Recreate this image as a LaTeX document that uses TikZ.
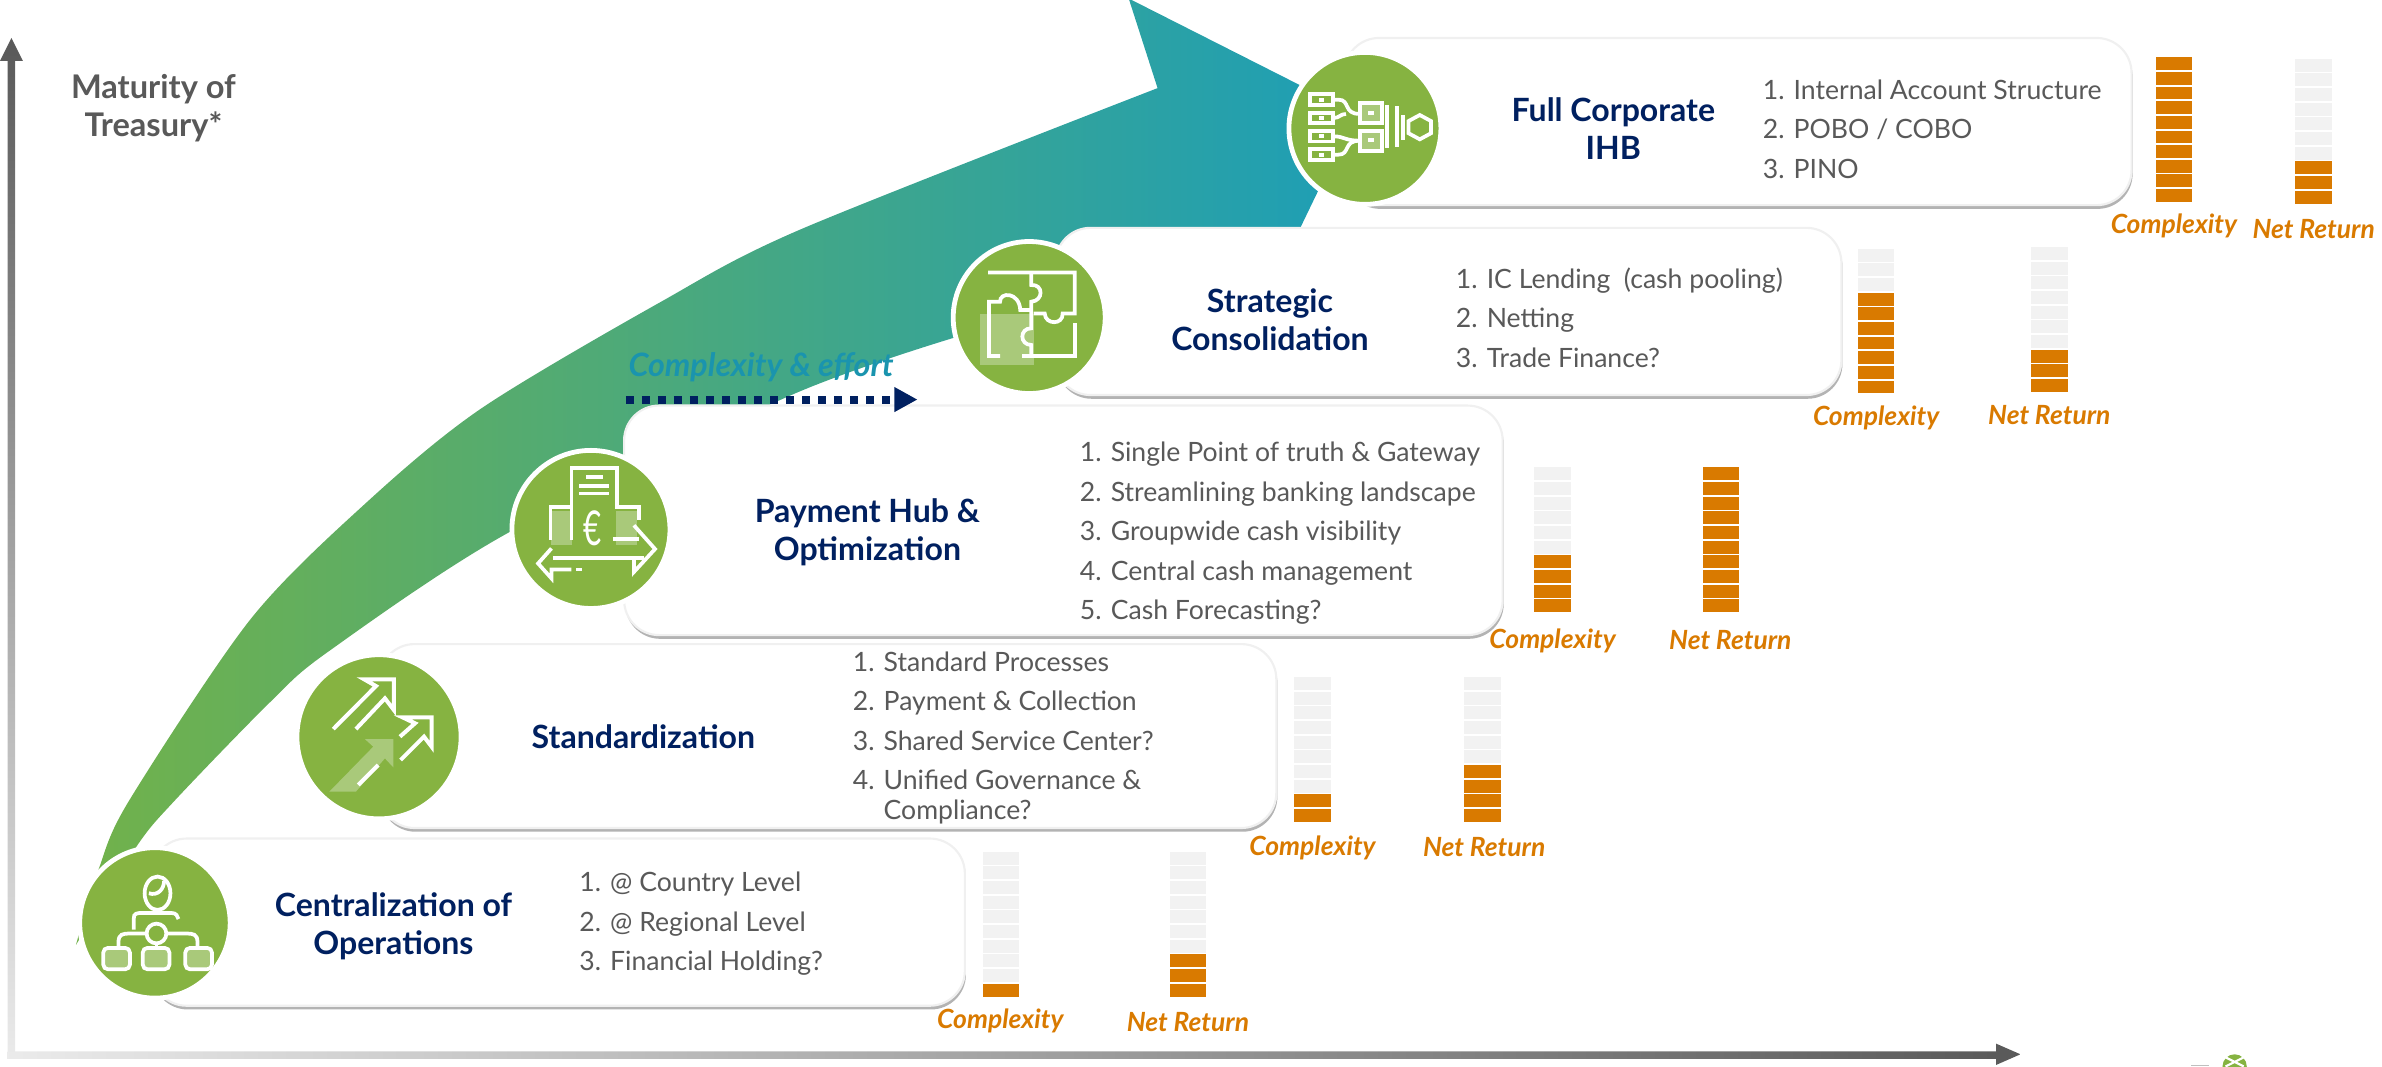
\documentclass[tikz,border=0pt]{standalone}
\usepackage{fontspec}
\setmainfont{Lato}
\usetikzlibrary{positioning, arrows.meta, shadows}

\definecolor{navytext}{HTML}{002060}
\definecolor{graytext}{HTML}{595959}
\definecolor{iconGreen}{HTML}{86B341}
\definecolor{iconLight}{HTML}{A9C97A}
\definecolor{barOrange}{HTML}{D97A00}
\definecolor{barGray}{HTML}{F2F2F2}
\definecolor{arrowGreen}{HTML}{72B24A}
\definecolor{arrowMid}{HTML}{3BA690}
\definecolor{arrowTeal}{HTML}{1C9EB8}
\definecolor{effortTeal}{HTML}{1A94AE}

\tikzset{
  card/.style={draw=black!6, line width=0.4pt, fill=white, rectangle, rounded corners=0.23cm,
    drop shadow={shadow xshift=0.2pt, shadow yshift=-0.7pt, fill=black!50, opacity=0.6}},
  iconcircle/.style={circle, fill=iconGreen, draw=white, line width=0.9pt, inner sep=0pt},
  cardtitle/.style={font=\fontsize{6}{7.1}\selectfont\bfseries, text=navytext, align=center},
  cardlist/.style={font=\fontsize{4.98}{7.4}\selectfont, text=graytext, align=left, anchor=west},
  barlabel/.style={font=\fontsize{4.95}{6}\selectfont\bfseries\itshape, text=barOrange},
  iconline/.style={draw=white, line width=0.7pt},
  iconfill/.style={fill=iconLight}
}

\newcommand{\barcol}[3]{
  \foreach \i in {0,...,9} {
    \ifnum\i<#3 \def\barfill{barOrange}\else\def\barfill{barGray}\fi
    \fill[\barfill] (#1,{#2-\i*9.65}) rectangle ++(24,-8.5);
  }
}

\begin{document}
\begin{tikzpicture}[x=0.01cm,y=-0.01cm]
\useasboundingbox (0,0) rectangle (1568,702);

\shade[left color=arrowGreen, middle color=arrowMid, right color=arrowTeal]
  plot[smooth] coordinates {(50,622) (65,572) (85,527) (165,407.5) (241,331) (316.6,269) (434.5,199) (527,151) (762,58)}
  -- (743,-1) -- (905,81) -- (868,125) -- (840,183) -- (720,190)
  -- plot[smooth] coordinates {(629,222) (521,260) (334,351) (216,429) (178,462) (115,527) (90,557) (50,622)}
  -- cycle;

\shade[top color=graytext, bottom color=black!8]
  (5,697) -- (5,40) -- (0,40) -- (7.5,25) -- (15,40) -- (10,40) -- (10,697) -- cycle;
\shade[left color=black!8, right color=graytext]
  (5,692) -- (1314,692) -- (1314,687) -- (1330,694) -- (1314,701) -- (1314,697) -- (5,697) -- cycle;

\node (maturity) at (101,71) [font=\fontsize{6.1}{7.1}\selectfont\bfseries, text=graytext, align=center]
  {Maturity of\\Treasury*};

\node (cardFull) at (1144,80) [card, minimum width=5.18cm, minimum height=1.10cm] {};
\node (cardStrategic) at (953.5,205) [card, minimum width=5.17cm, minimum height=1.10cm] {};
\node (cardPayment) at (700,342.5) [card, minimum width=5.78cm, minimum height=1.51cm] {};
\node (cardStandard) at (545,484.5) [card, minimum width=5.90cm, minimum height=1.21cm] {};
\node (cardOps) at (367.5,607) [card, minimum width=5.35cm, minimum height=1.10cm] {};

\node (iconOps) at (102,607.5) [iconcircle, minimum size=0.99cm] {};
\node (iconStandard) at (249.5,485) [iconcircle, minimum size=1.08cm] {};
\node (iconPayment) at (389,348.5) [iconcircle, minimum size=1.04cm] {};
\node (iconStrategic) at (677.5,209) [iconcircle, minimum size=1.0cm] {};
\node (iconFull) at (898.5,84.5) [iconcircle, minimum size=1.0cm] {};

\draw[iconline] (103.7,588) ellipse [x radius=8.5, y radius=11];
\draw[iconline] (98,588) .. controls (104,590) and (108,585) .. (108,580);
\draw[iconline] (88,612) -- (88,605) .. controls (88,601) and (90,601) .. (94,601) -- (113,601) .. controls (116,601) and (117,603) .. (117.5,605);
\draw[iconline] (103,614.5) circle [radius=6.5];
\draw[iconline] (103,621) -- (103,624);
\draw[iconline] (78,624) -- (78,620) .. controls (78,615) and (81,614.5) .. (85,614.5) -- (96.5,614.5);
\draw[iconline] (130,624) -- (130,620) .. controls (130,615) and (127,614.5) .. (123,614.5) -- (109.5,614.5);
\foreach \bx in {68,94,122} {
  \draw[iconline, iconfill, rounded corners=0.03cm] (\bx,624) rectangle ++(17.5,14);
}

\fill[iconLight] (216.8,521.1) -- (234.3,521.1) -- (253.4,499.2) -- (258.9,505.1) -- (258.9,486.5) -- (240.2,486.5) -- (245.7,491.5) -- cycle;
\draw[iconline, line width=0.75pt] (219.4,479.9) -- (247.5,451.6) -- (239.8,447.2) -- (259.3,447.2) -- (259.3,467.4) -- (253.4,459.7) -- (234.3,479.9);
\draw[iconline, line width=0.75pt] (263.3,484.9) -- (273.2,476.1) -- (265,472.2) -- (284.1,472.2) -- (284.1,491.5) -- (279.1,484.9) -- (263.7,500.3);
\draw[iconline, line width=0.75pt] (235.9,516.7) -- (249,503.6);

\fill[iconLight] (362.7,336.2) rectangle (376.5,359);
\fill[iconLight] (405.6,336.2) rectangle (419.4,359);
\draw[iconline] (362.4,355.5) -- (362.4,333.5) -- (376.2,333.5);
\draw[iconline] (376.2,355.5) -- (376.2,308.3) -- (406.2,308.3) -- (406.2,333.5) -- (420.4,333.5) -- (420.4,342);
\draw[iconline] (403.5,355) -- (420.4,355);
\draw[iconline] (386,313.8) -- (396.8,313.8);
\draw[iconline] (381.2,320) -- (401.2,320);
\draw[iconline] (381.2,324.8) -- (401.2,324.8);
\node (euroSign) at (390,347.5) [font=\fontsize{9}{9}\selectfont, text=white, inner sep=0pt] {\scalebox{0.65}[1]{€}};
\draw[iconline] (364,367.2) -- (424,367.2);
\draw[iconline] (417.3,345.8) -- (431.2,361.4) -- (417.3,376.5) -- (417.3,367.2);
\draw[iconline] (363,361) -- (354.2,370.9) -- (363,380.7) -- (363,374.8) -- (376.2,374.8);
\draw[iconline] (379.2,374.8) -- (383,374.8);

\fill[iconLight] (645.1,206.7) rectangle (680.4,240.3);
\draw[iconline] (650.4,179.3) -- (707.4,179.3) -- (707.4,206.3) -- (699.5,206.3) .. controls (700,214) and (688,214) .. (687.7,206.3) -- (680.4,206.3);
\draw[iconline] (678.9,179.3) -- (678.9,187.6) .. controls (687,187) and (687,198) .. (678.9,198.6) -- (678.9,216.1) .. controls (671,216) and (671,227) .. (678.9,227.1) -- (678.9,233.7);
\draw[iconline] (707.4,212.8) -- (707.4,234.4) -- (673,234.4);
\draw[iconline] (658.3,234.4) -- (651,234.4) -- (651,198.6) -- (658.3,198.6) .. controls (658,192) and (671,192) .. (671.6,204) -- (678.9,204);

\foreach \by in {62.1,74.2,86.2,98.3} {
  \draw[iconline] (862.4,\by) rectangle ++(15.2,7);
  \fill[white] (868.5,\by+2.2) rectangle ++(3,2.6);
}
\draw[iconline, iconfill] (895.1,68) rectangle (909.9,81.2);
\draw[iconline, iconfill] (895.1,86) rectangle (909.9,99.2);
\fill[white] (900.5,73) rectangle ++(4,2.6);
\fill[white] (900.5,91) rectangle ++(4,2.6);
\draw[iconline] (877.6,65.6) -- (881,65.6) .. controls (889,65.6) and (884,75) .. (895,75);
\draw[iconline] (877.6,77.7) .. controls (882,77.7) and (882,75) .. (886,75);
\draw[iconline] (877.6,89.7) .. controls (885,89.7) and (885,92.6) .. (895,92.6);
\draw[iconline] (877.6,101.8) -- (881,101.8) .. controls (889,101.8) and (884,92.6) .. (895,92.6);
\draw[iconline] (913.2,69) -- (913.2,97.6);
\draw[iconline] (919.4,70) -- (919.4,96.6);
\draw[iconline] (923.7,75.7) -- (923.7,92.2);
\draw[iconline, line width=0.7pt] (934.6,75.7) -- (942,79.7) -- (942,87.7) -- (934.6,91.7) -- (927.2,87.7) -- (927.2,79.7) -- cycle;

\node (titleOps) at (259,609.5) [cardtitle] {Centralization of\\Operations};
\node (titleStandard) at (423.5,485) [cardtitle] {Standardization};
\node (titlePayment) at (571,350.5) [cardtitle] {Payment Hub \&\\Optimization};
\node (titleStrategic) at (836,210.5) [cardtitle] {Strategic\\Consolidation};
\node (titleFull) at (1062,84.5) [cardtitle] {Full Corporate\\IHB};

\node (listOps) at (369,608) [cardlist] {1. @ Country Level\\2. @ Regional Level\\3. Financial Holding?};
\node (listStandard) at (549,485.5) [cardlist] {1. Standard Processes\\2. Payment \& Collection\\3. Shared Service Center?\\4. Unified Governance \&\\[-1.9pt]\phantom{4. }Compliance?};
\node (listPayment) at (698.5,351) [cardlist] {1. Single Point of truth \& Gateway\\2. Streamlining banking landscape\\3. Groupwide cash visibility\\4. Central cash management\\5. Cash Forecasting?};
\node (listStrategic) at (946,209) [cardlist] {1. IC Lending \ (cash pooling)\\2. Netting\\3. Trade Finance?};
\node (listFull) at (1148,85) [cardlist] {1. Internal Account Structure\\2. POBO / COBO\\3. PINO};

\barcol{647}{656}{1}
\barcol{770}{656}{3}
\barcol{852}{541}{2}
\barcol{964}{541}{4}
\barcol{1010}{403}{4}
\barcol{1121}{403}{10}
\barcol{1223}{259}{7}
\barcol{1337}{258}{3}
\barcol{1419}{133}{10}
\barcol{1511}{134}{3}

\node (complexityOps) at (658.5,672) [barlabel] {Complexity};
\node (returnOps) at (782,672.5) [barlabel] {Net Return};
\node (complexityStandard) at (864,558) [barlabel] {Complexity};
\node (returnStandard) at (977,557.5) [barlabel] {Net Return};
\node (complexityPayment) at (1022,422) [barlabel] {Complexity};
\node (returnPayment) at (1139,421.5) [barlabel] {Net Return};
\node (complexityStrategic) at (1235,275) [barlabel] {Complexity};
\node (returnStrategic) at (1349,273.5) [barlabel] {Net Return};
\node (complexityFull) at (1431,149) [barlabel] {Complexity};
\node (returnFull) at (1523,150.5) [barlabel] {Net Return};

\node (effortLabel) at (501,241.5) [font=\fontsize{6.03}{7}\selectfont\bfseries\itshape, text=effortTeal] {Complexity \& effort};
\coordinate (effortStart) at (412,263);
\coordinate (effortEnd) at (604,263);
\draw[navytext, line width=1.5pt, dash pattern=on 1.5pt off 1.5pt, -{Triangle[length=0.153cm,width=0.154cm]}] (effortStart) -- (effortEnd);

\fill[iconGreen] (1471,702) circle [radius=8];
\draw[white, line width=0.4pt] (1465,696) -- (1477,702) (1477,696) -- (1465,702);
\fill[black!25] (1442,701) rectangle (1454,702);
\end{tikzpicture}
\end{document}
